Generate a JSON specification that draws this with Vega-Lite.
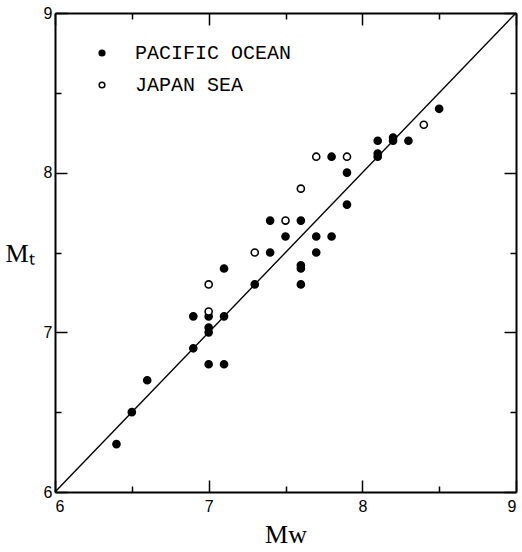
{
  "$schema": "https://vega.github.io/schema/vega-lite/v6.json",
  "width": 461,
  "height": 479,
  "padding": {"left": 5, "top": 5, "right": 0, "bottom": 0},
  "background": "white",
  "config": {"view": {"stroke": null}},
  "datasets": {
    "diag": [{"mw": 6, "mt": 6}, {"mw": 9, "mt": 9}]
  },
  "layer": [
    {
      "data": {
        "values": [
          {"mw": 6.4, "mt": 6.3, "region": "PACIFIC OCEAN"},
          {"mw": 6.5, "mt": 6.5, "region": "PACIFIC OCEAN"},
          {"mw": 6.6, "mt": 6.7, "region": "PACIFIC OCEAN"},
          {"mw": 6.9, "mt": 6.9, "region": "PACIFIC OCEAN"},
          {"mw": 6.9, "mt": 7.1, "region": "PACIFIC OCEAN"},
          {"mw": 7.0, "mt": 6.8, "region": "PACIFIC OCEAN"},
          {"mw": 7.1, "mt": 6.8, "region": "PACIFIC OCEAN"},
          {"mw": 7.0, "mt": 7.0, "region": "PACIFIC OCEAN"},
          {"mw": 7.0, "mt": 7.03, "region": "PACIFIC OCEAN"},
          {"mw": 7.0, "mt": 7.1, "region": "PACIFIC OCEAN"},
          {"mw": 7.1, "mt": 7.1, "region": "PACIFIC OCEAN"},
          {"mw": 7.1, "mt": 7.4, "region": "PACIFIC OCEAN"},
          {"mw": 7.3, "mt": 7.3, "region": "PACIFIC OCEAN"},
          {"mw": 7.4, "mt": 7.5, "region": "PACIFIC OCEAN"},
          {"mw": 7.4, "mt": 7.7, "region": "PACIFIC OCEAN"},
          {"mw": 7.5, "mt": 7.6, "region": "PACIFIC OCEAN"},
          {"mw": 7.6, "mt": 7.3, "region": "PACIFIC OCEAN"},
          {"mw": 7.6, "mt": 7.4, "region": "PACIFIC OCEAN"},
          {"mw": 7.6, "mt": 7.42, "region": "PACIFIC OCEAN"},
          {"mw": 7.6, "mt": 7.7, "region": "PACIFIC OCEAN"},
          {"mw": 7.7, "mt": 7.5, "region": "PACIFIC OCEAN"},
          {"mw": 7.7, "mt": 7.6, "region": "PACIFIC OCEAN"},
          {"mw": 7.8, "mt": 7.6, "region": "PACIFIC OCEAN"},
          {"mw": 7.8, "mt": 8.1, "region": "PACIFIC OCEAN"},
          {"mw": 7.9, "mt": 7.8, "region": "PACIFIC OCEAN"},
          {"mw": 7.9, "mt": 8.0, "region": "PACIFIC OCEAN"},
          {"mw": 8.1, "mt": 8.1, "region": "PACIFIC OCEAN"},
          {"mw": 8.1, "mt": 8.12, "region": "PACIFIC OCEAN"},
          {"mw": 8.1, "mt": 8.2, "region": "PACIFIC OCEAN"},
          {"mw": 8.2, "mt": 8.2, "region": "PACIFIC OCEAN"},
          {"mw": 8.2, "mt": 8.22, "region": "PACIFIC OCEAN"},
          {"mw": 8.3, "mt": 8.2, "region": "PACIFIC OCEAN"},
          {"mw": 8.5, "mt": 8.4, "region": "PACIFIC OCEAN"},
          {"mw": 7.0, "mt": 7.13, "region": "JAPAN SEA"},
          {"mw": 7.0, "mt": 7.3, "region": "JAPAN SEA"},
          {"mw": 7.3, "mt": 7.5, "region": "JAPAN SEA"},
          {"mw": 7.5, "mt": 7.7, "region": "JAPAN SEA"},
          {"mw": 7.6, "mt": 7.9, "region": "JAPAN SEA"},
          {"mw": 7.7, "mt": 8.1, "region": "JAPAN SEA"},
          {"mw": 7.9, "mt": 8.1, "region": "JAPAN SEA"},
          {"mw": 8.4, "mt": 8.3, "region": "JAPAN SEA"}
        ]
      },
      "mark": {"type": "point", "shape": "circle", "filled": true, "stroke": "black", "strokeWidth": 1.6, "size": 50, "opacity": 1},
      "encoding": {
        "x": {
          "field": "mw", "type": "quantitative",
          "scale": {"domain": [6, 9], "nice": false, "zero": false},
          "axis": {
            "orient": "bottom",
            "values": [6, 7, 8, 9],
            "format": "d",
            "tickSize": -12,
            "grid": false,
            "domainColor": "black", "domainWidth": 2,
            "tickColor": "black", "tickWidth": 1.5,
            "labelFont": "Liberation Sans", "labelFontSize": 16, "labelColor": "black", "labelPadding": 18,
            "labelOverlap": false,
            "title": "Mᴡ",
            "titleFont": "Liberation Serif", "titleFontSize": 26, "titleFontWeight": "normal", "titleColor": "black", "titlePadding": 7
          }
        },
        "y": {
          "field": "mt", "type": "quantitative",
          "scale": {"domain": [6, 9], "nice": false, "zero": false},
          "axis": {
            "orient": "left",
            "values": [6, 7, 8, 9],
            "format": "d",
            "tickSize": -12,
            "grid": false,
            "domainColor": "black", "domainWidth": 2,
            "tickColor": "black", "tickWidth": 1.5,
            "labelFont": "Liberation Sans", "labelFontSize": 16, "labelColor": "black", "labelPadding": 15,
            "labelOverlap": false,
            "title": "Mₜ",
            "titleFont": "Liberation Serif", "titleFontSize": 26, "titleFontWeight": "normal", "titleColor": "black",
            "titleAngle": 0, "titleAlign": "left", "titleBaseline": "middle", "titleX": -50, "titleY": 240
          }
        },
        "fill": {
          "field": "region", "type": "nominal",
          "scale": {"domain": ["PACIFIC OCEAN", "JAPAN SEA"], "range": ["black", "white"]},
          "legend": {
            "orient": "none", "legendX": 37, "legendY": 30, "title": null,
            "labelFont": "Liberation Mono", "labelFontSize": 20, "labelColor": "black",
            "symbolType": "circle", "symbolSize": 32, "symbolStrokeColor": "black", "symbolStrokeWidth": 1.5,
            "rowPadding": 12, "labelOffset": 23
          }
        }
      }
    },
    {
      "data": {"name": "diag"},
      "mark": {"type": "line", "color": "black", "strokeWidth": 1.4},
      "encoding": {
        "x": {
          "field": "mw", "type": "quantitative",
          "axis": {
            "orient": "top", "values": [6, 7, 8, 9], "labels": false, "tickSize": -12, "grid": false,
            "domainColor": "black", "domainWidth": 2, "tickColor": "black", "tickWidth": 1.5, "title": null
          }
        },
        "y": {
          "field": "mt", "type": "quantitative",
          "axis": {
            "orient": "right", "values": [6, 7, 8, 9], "labels": false, "tickSize": -12, "grid": false,
            "domainColor": "black", "domainWidth": 2, "tickColor": "black", "tickWidth": 1.5, "title": null
          }
        }
      }
    },
    {
      "data": {"name": "diag"},
      "mark": {"type": "line", "strokeOpacity": 0},
      "encoding": {
        "x": {
          "field": "mw", "type": "quantitative",
          "axis": {
            "orient": "bottom", "values": [6.5, 7.5, 8.5], "labels": false, "tickSize": -6, "grid": false,
            "domain": false, "tickColor": "black", "tickWidth": 1.5, "title": null
          }
        },
        "y": {
          "field": "mt", "type": "quantitative",
          "axis": {
            "orient": "left", "values": [6.5, 7.5, 8.5], "labels": false, "tickSize": -6, "grid": false,
            "domain": false, "tickColor": "black", "tickWidth": 1.5, "title": null
          }
        }
      }
    },
    {
      "data": {"name": "diag"},
      "mark": {"type": "line", "strokeOpacity": 0},
      "encoding": {
        "x": {
          "field": "mw", "type": "quantitative",
          "axis": {
            "orient": "top", "values": [6.5, 7.5, 8.5], "labels": false, "tickSize": -6, "grid": false,
            "domain": false, "tickColor": "black", "tickWidth": 1.5, "title": null
          }
        },
        "y": {
          "field": "mt", "type": "quantitative",
          "axis": {
            "orient": "right", "values": [6.5, 7.5, 8.5], "labels": false, "tickSize": -6, "grid": false,
            "domain": false, "tickColor": "black", "tickWidth": 1.5, "title": null
          }
        }
      }
    }
  ],
  "resolve": {"axis": {"x": "independent", "y": "independent"}}
}
